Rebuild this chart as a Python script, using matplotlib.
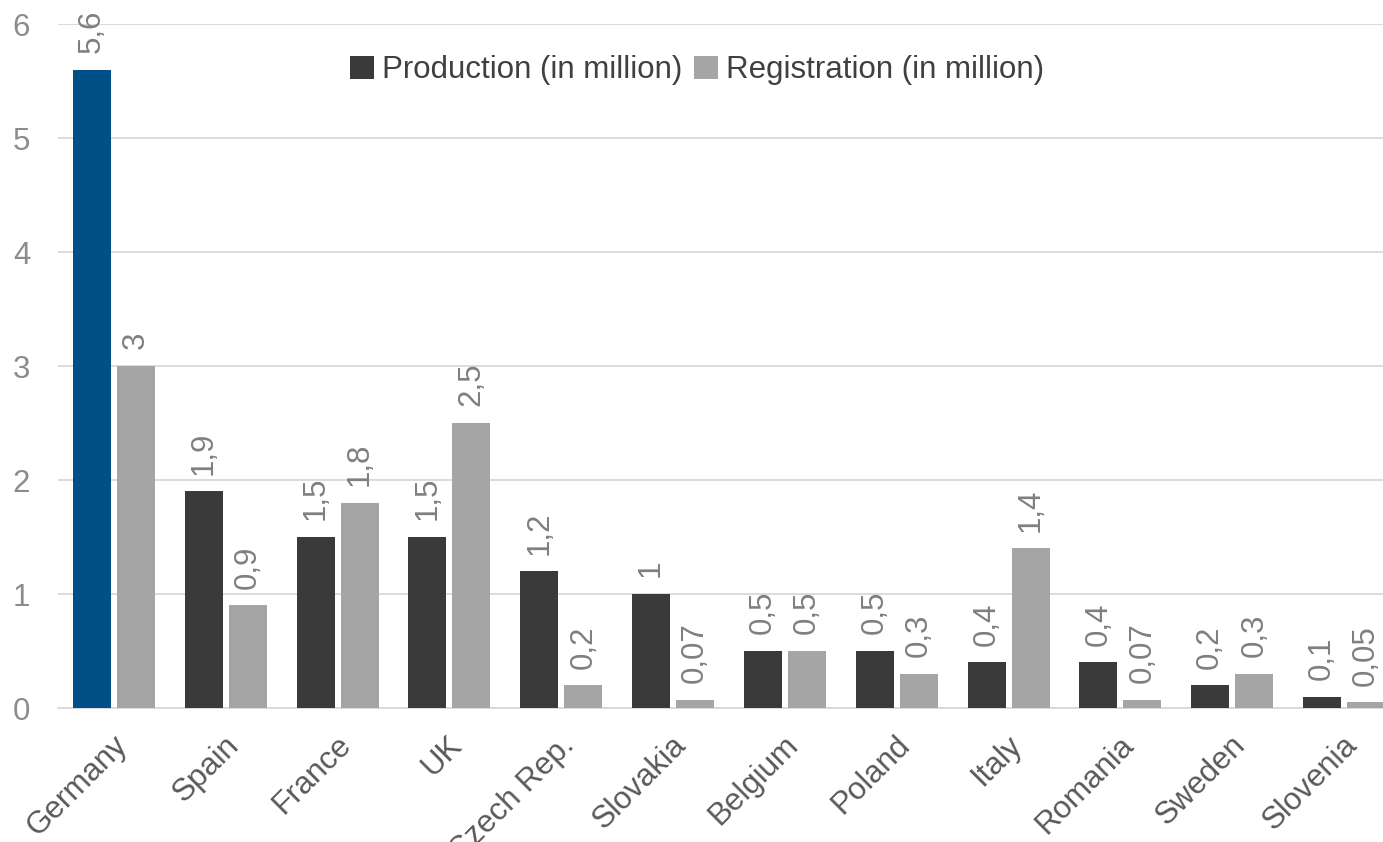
import matplotlib
matplotlib.use("Agg")
import matplotlib.pyplot as plt
import numpy as np

countries = ["Germany", "Spain", "France", "UK", "Czech Rep.", "Slovakia",
             "Belgium", "Poland", "Italy", "Romania", "Sweden", "Slovenia"]
production = [5.6, 1.9, 1.5, 1.5, 1.2, 1.0, 0.5, 0.5, 0.4, 0.4, 0.2, 0.1]
registration = [3.0, 0.9, 1.8, 2.5, 0.2, 0.07, 0.5, 0.3, 1.4, 0.07, 0.3, 0.05]
series_names = ["Production (in million)", "Registration (in million)"]
y_ticks = [0, 1, 2, 3, 4, 5, 6]

plt.rcParams['font.family'] = ['Liberation Sans', 'DejaVu Sans']

W, H = 1383, 842
fig = plt.figure(figsize=(W / 100, H / 100), dpi=100)
left, right, top, bottom = 58, 1400, 24, 708
ax = fig.add_axes([left / W, 1 - bottom / H, (right - left) / W, (bottom - top) / H])

x = np.arange(len(countries))
bw = 0.34
off = 0.197
prod_colors = ["#004f87"] + ["#3a3a3a"] * (len(countries) - 1)
b1 = ax.bar(x - off, production, bw, color=prod_colors, label=series_names[0], zorder=3)
b2 = ax.bar(x + off, registration, bw, color="#a5a5a5", label=series_names[1], zorder=3)

fs = 22.5
lab_color = "#7f7f7f"
for bars, vals in ((b1, production), (b2, registration)):
    for r, v in zip(bars, vals):
        ax.annotate(f"{v:g}".replace(".", ","),
                    (r.get_x() + r.get_width() / 2, r.get_height()),
                    xytext=(0, 12), textcoords="offset points",
                    rotation=90, ha="center", va="bottom",
                    fontsize=fs, color=lab_color, zorder=4,
                    annotation_clip=False)

ax.set_xlim(-0.5, len(countries) - 0.5)
ax.set_ylim(0, 6)
ax.set_yticks(y_ticks)
ax.set_yticklabels([str(t) for t in y_ticks])
ax.tick_params(axis="y", length=0, pad=20, labelsize=fs, labelcolor="#8c8c8c")
ax.set_xticks(x)
ax.set_xticklabels(countries, rotation=45, ha="right", rotation_mode="anchor",
                   fontsize=fs, color="#595959")
ax.tick_params(axis="x", length=0, pad=16)
for lbl in ax.get_xticklabels():
    lbl.set_transform(lbl.get_transform() + matplotlib.transforms.ScaledTranslation(-2 / 100, 0, fig.dpi_scale_trans))

ax.grid(axis="y", color="#d9d9d9", linewidth=1.3, zorder=0)
for s in ("top", "right", "left"):
    ax.spines[s].set_visible(False)
ax.spines["bottom"].set_color("#d9d9d9")
ax.spines["bottom"].set_linewidth(1.3)

leg = fig.legend(handles=[b1[1], b2[0]], labels=series_names, loc="center",
                 bbox_to_anchor=(697 / W, 1 - 70 / H), ncol=2, frameon=False,
                 fontsize=fs, handlelength=0.75, handleheight=0.75,
                 handletextpad=0.25, columnspacing=0.4, labelcolor="#404040")

fig.savefig("out.png", dpi=100)
